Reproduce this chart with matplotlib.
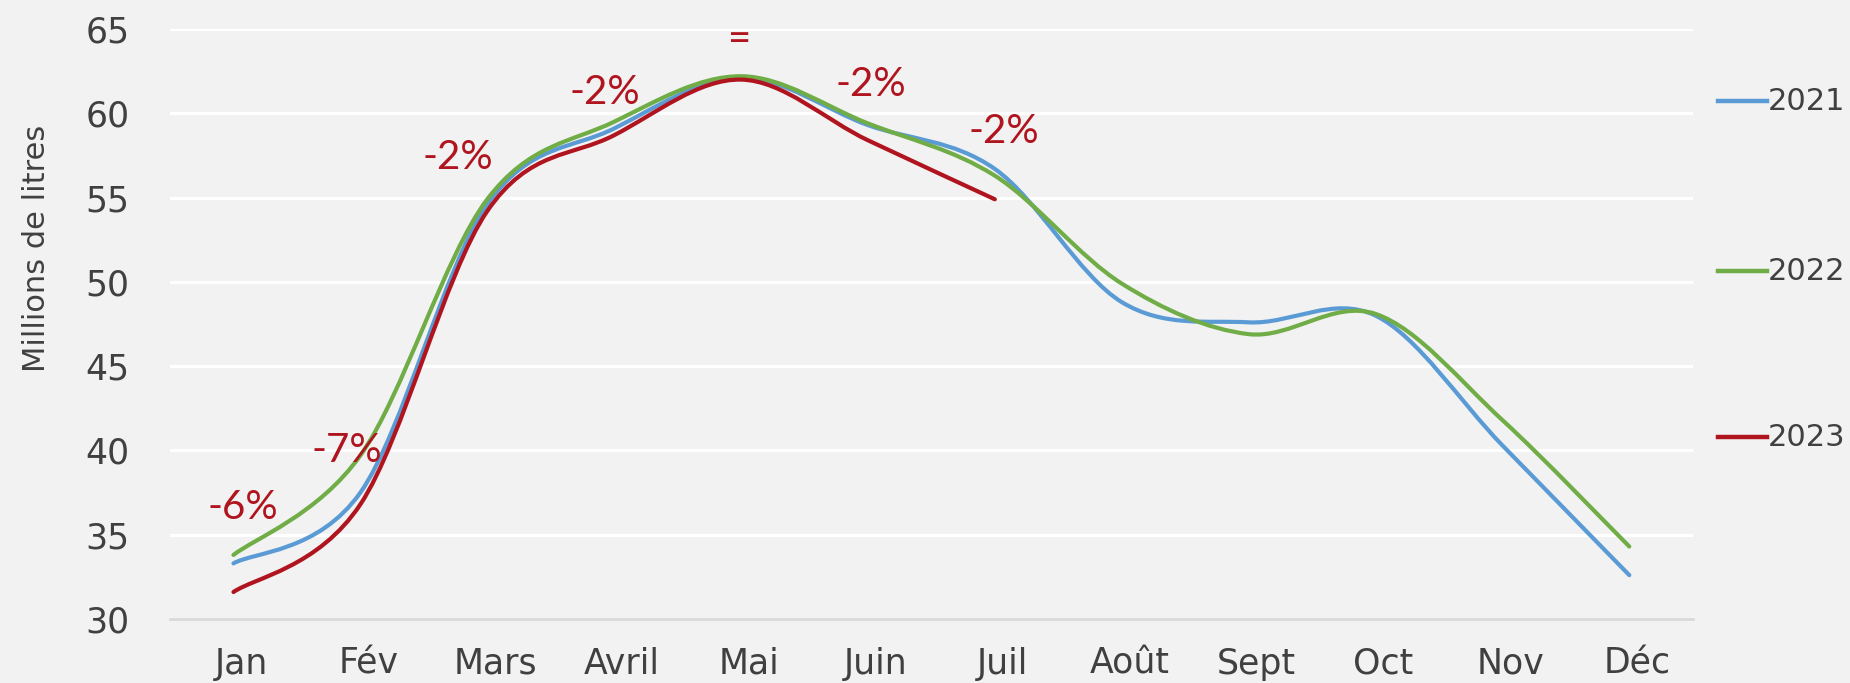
import numpy as np
import matplotlib.pyplot as plt
import matplotlib.transforms as mtransforms
from matplotlib.path import Path
from matplotlib.patches import PathPatch
from matplotlib.lines import Line2D

# données (millions de litres)
mois = ["Jan", "Fév", "Mars", "Avril", "Mai", "Juin", "Juil", "Août", "Sept", "Oct", "Nov", "Déc"]
v2021 = [33.3, 37.5, 54.6, 59.1, 62.1, 59.3, 56.7, 48.8, 47.6, 48.0, 40.3, 32.6]
v2022 = [33.8, 39.7, 54.9, 59.5, 62.2, 59.4, 56.3, 49.9, 46.9, 48.1, 41.8, 34.3]
v2023 = [31.6, 36.8, 54.2, 58.7, 62.0, 58.4, 54.9]
ecarts = ["-6%", "-7%", "-2%", "-2%", "=", "-2%", "-2%"]

# position des étiquettes d'écart
lab_x = [0.07, 0.89, 1.77, 2.93, 3.99, 5.02, 6.07]
lab_y = [36.6, 40.0, 57.4, 61.25, 64.4, 61.7, 58.9]

couleurs = {"2021": "#5B9BD5", "2022": "#70AD47", "2023": "#B0141E"}
fond = "#F2F2F2"
gris = "#404040"


def courbe_lissee(x, y):
    # courbe de type Excel "lissée" : segments de Bézier (Catmull-Rom)
    p = np.column_stack([x, y]).astype(float)
    n = len(p)
    verts = [p[0]]
    codes = [Path.MOVETO]
    for i in range(n - 1):
        p0 = p[i - 1] if i > 0 else p[i]
        p1 = p[i]
        p2 = p[i + 1]
        p3 = p[i + 2] if i + 2 < n else p[i + 1]
        c1 = p1 + (p2 - p0) / 6
        c2 = p2 - (p3 - p1) / 6
        verts += [c1, c2, p2]
        codes += [Path.CURVE4] * 3
    return Path(verts, codes)


fig = plt.figure(figsize=(18.5, 6.83), dpi=100, facecolor=fond)
ax = fig.add_axes([0.0919, 0.0937, 0.915 - 0.0919, 0.9575 - 0.0937])
ax.set_facecolor(fond)

for nom, vals in [("2021", v2021), ("2022", v2022), ("2023", v2023)]:
    xs = np.arange(len(vals))
    ax.add_patch(PathPatch(courbe_lissee(xs, vals), fill=False,
                           edgecolor=couleurs[nom], lw=3, capstyle="round", zorder=3))

for txt, x, y in zip(ecarts, lab_x, lab_y):
    ax.text(x, y, txt, color=couleurs["2023"], fontsize=29,
            family=["Lato", "DejaVu Sans"], ha="center", va="center", zorder=4)

ax.set_xlim(-0.5, 11.5)
ax.set_ylim(30, 65)
ax.set_yticks(np.arange(30, 66, 5))
ax.set_xticks(np.arange(12))
ax.set_xticklabels(mois)
ax.grid(True, axis="y", color="white", lw=2.2)
ax.set_axisbelow(True)
for s in ["top", "right", "left"]:
    ax.spines[s].set_visible(False)
ax.spines["bottom"].set_color("#D9D9D9")
ax.spines["bottom"].set_linewidth(2)
ax.tick_params(axis="y", length=0, pad=29, labelsize=25, labelcolor=gris)
ax.tick_params(axis="x", length=0, pad=20, labelsize=25, labelcolor=gris)
decal = mtransforms.ScaledTranslation(0.08, 0, fig.dpi_scale_trans)
for lab in ax.get_xticklabels():
    lab.set_transform(lab.get_transform() + decal)
ax.set_ylabel("Millions de litres", fontsize=22, color=gris)
ax.yaxis.set_label_coords(-0.078, 0.629)

# légende à droite
leg_y = [0.852, 0.603, 0.360]
for (nom, c), y in zip(couleurs.items(), leg_y):
    fig.add_artist(Line2D([0.9286, 0.9551], [y, y], color=c, lw=3.2,
                          transform=fig.transFigure))
    fig.text(0.9558, y, nom, fontsize=22, color=gris, va="center", ha="left")

fig.savefig("out.png", dpi=100, facecolor=fond)
